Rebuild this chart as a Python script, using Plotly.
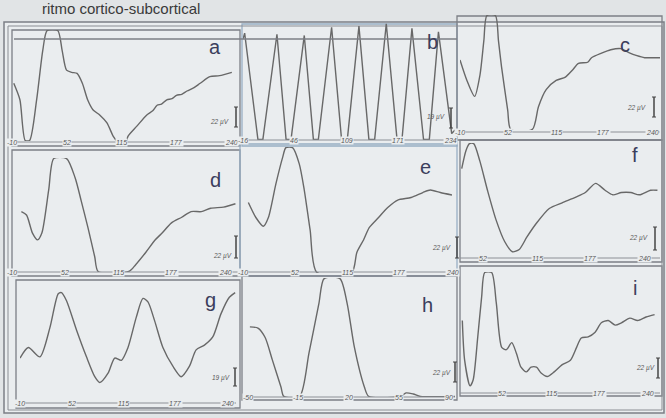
import plotly.graph_objects as go

W, H = 666, 418

# ---------------- data (x in ms, y in % of panel height, clipped 0..100) ----------------
A_X = [-8, -1, 5, 10, 18, 25, 30, 42, 47, 52, 58, 64, 70, 76, 82, 90, 98, 105, 109, 120, 122, 132, 143, 150, 155, 160, 166, 172, 177, 183, 189, 197, 204, 215, 226, 240]
A_Y = [52, 37, 0, 0, 37, 82, 100, 100, 82, 64, 62, 61, 52, 37, 28, 23, 16, 4, 0, 0, 4, 13, 23, 27, 32, 33, 37, 38, 41, 42, 45, 48, 52, 58, 59, 62]

B_X = [-16, -14, 2, 8, 25, 36, 42, 58, 69, 75, 91, 103, 110, 124, 136, 143, 157, 170, 176, 188, 202, 209, 220, 236, 240]
B_Y = [86, 91, 0, 0, 90, 0, 0, 89, 0, 0, 96, 0, 0, 97, 0, 0, 99, 0, 0, 95, 0, 0, 92, 5, 8]

C_X = [-10, -1, 9, 16, 21, 25, 36, 40, 44, 52, 56, 84, 92, 102, 115, 127, 136, 144, 156, 161, 174, 186, 199, 211, 219, 230, 240, 250]
C_Y = [61, 43, 29, 48, 78, 100, 100, 78, 55, 17, 0, 0, 20, 35, 43, 46, 52, 58, 59, 63, 67, 70, 71, 67, 65, 63, 63, 63]

D_X = [1, 7, 14, 20, 25, 33, 39, 54, 64, 71, 79, 87, 91, 127, 135, 147, 158, 166, 177, 189, 200, 212, 223, 238, 252]
D_Y = [53, 50, 34, 28, 34, 72, 100, 100, 83, 63, 39, 13, 0, 0, 6, 17, 28, 34, 43, 48, 53, 53, 56, 57, 60]

E_X = [-4, 5, 14, 20, 29, 37, 41, 49, 57, 63, 70, 78, 120, 126, 134, 141, 152, 163, 175, 191, 205, 214, 226, 240]
E_Y = [56, 44, 37, 44, 71, 92, 100, 100, 87, 66, 34, 0, 0, 16, 26, 36, 44, 52, 58, 60, 64, 66, 64, 62]

F_X = [27, 32, 36, 41, 48, 57, 67, 77, 86, 94, 103, 114, 129, 144, 160, 171, 183, 194, 203, 213, 224, 234, 247, 255]
F_Y = [78, 94, 100, 100, 85, 59, 33, 14, 5, 7, 18, 30, 43, 48, 53, 57, 65, 59, 55, 57, 57, 55, 59, 59]

G_X = [-10, 0, 14, 26, 36, 40, 46, 58, 70, 80, 86, 96, 104, 112, 120, 130, 138, 144, 152, 162, 174, 184, 194, 202, 212, 222, 232, 242, 249]
G_Y = [38, 47, 39, 64, 93, 94, 87, 62, 39, 22, 17, 25, 38, 36, 47, 73, 89, 86, 70, 47, 31, 22, 31, 45, 49, 56, 76, 90, 94]

H_X = [-48.6, -43, -38, -33, -27, -25, -14, -7.5, -0.6, 3, 14, 19, 24, 31, 34, 56, 60, 65, 70, 94]
H_Y = [59, 58, 50, 31, 8, 0, 0, 37, 79, 100, 100, 79, 42, 8, 0, 0, 3, 2, 0, 0]

I_X = [0, 3, 10, 14, 20, 25, 29, 38, 44, 51, 57, 64, 70, 76, 83, 89, 96, 102, 110, 119, 129, 140, 148, 154, 163, 172, 180, 189, 198, 206, 217, 227, 238, 249]
I_Y = [59, 25, 3, 8, 45, 79, 100, 100, 74, 36, 34, 40, 31, 19, 15, 19, 19, 14, 11, 15, 21, 25, 36, 44, 45, 49, 57, 59, 55, 57, 61, 59, 62, 64]

TICKS_STD = [-10, 52, 115, 177, 240]
TICKS_B = [-16, 46, 109, 171, 234]
TICKS_F = [52, 115, 177, 240]
TICKS_H = [-50, -15, 20, 55, 90]
TICKS_I = [52, 115, 177, 240]

PANEL_LETTERS = ["a", "b", "c", "d", "e", "f", "g", "h", "i"]
SCALE_TEXT = ["22 µV", "19 µV", "22 µV", "22 µV", "22 µV", "22 µV", "19 µV", "22 µV", "22 µV"]
HEADER = "ritmo cortico-subcortical"

# ---------------- layout geometry (pixels) ----------------
def px(x):
    return x / W

def py(y):
    return 1 - y / H

panels = [
    dict(X=A_X, Y=A_Y, ticks=TICKS_STD, xr=[-10, 247], xp=(12, 238), yp=(30, 141), ly=142, let=(215, 47), sb=(236, 107, 127), st=(219, 122), lin=False),
    dict(X=B_X, Y=B_Y, ticks=TICKS_B, xr=[-16, 240], xp=(243, 455), yp=(22, 140), ly=140, let=(433, 42), sb=(451, 108, 128), st=(436, 117), lin=True),
    dict(X=C_X, Y=C_Y, ticks=TICKS_STD, xr=[-10, 250], xp=(460, 660), yp=(15, 130), ly=132, let=(625, 45), sb=(654, 97, 117), st=(636, 108), lin=False),
    dict(X=D_X, Y=D_Y, ticks=TICKS_STD, xr=[-10, 255], xp=(12, 238), yp=(158, 272), ly=272, let=(215, 180), sb=(236, 236, 258), st=(222, 256), lin=False),
    dict(X=E_X, Y=E_Y, ticks=TICKS_STD, xr=[-14, 240], xp=(240, 452), yp=(147, 273), ly=272, let=(425, 167), sb=(457, 237, 258), st=(441, 248), lin=False),
    dict(X=F_X, Y=F_Y, ticks=TICKS_F, xr=[25, 258], xp=(460, 660), yp=(143, 258), ly=258, let=(635, 155), sb=(655, 227, 250), st=(638, 238), lin=False),
    dict(X=G_X, Y=G_Y, ticks=TICKS_STD, xr=[-10, 250], xp=(20, 236), yp=(285, 403), ly=403, let=(210, 300), sb=(235, 368, 386), st=(221, 378), lin=False),
    dict(X=H_X, Y=H_Y, ticks=TICKS_H, xr=[-52, 94], xp=(245, 455), yp=(278, 397), ly=397, let=(428, 305), sb=(455, 362, 382), st=(441, 373), lin=False),
    dict(X=I_X, Y=I_Y, ticks=TICKS_I, xr=[-3, 256], xp=(460, 660), yp=(272, 390), ly=393, let=(635, 288), sb=(658, 358, 378), st=(645, 368), lin=False),
]

BG = "#e1e4e6"
PANEL_BG = "#eaedef"
LINE = "#686868"
FRAME = "#7c7f86"
FRAME_BLUE = "#98aec4"
LETTER = "#3b3e5c"
TXT = "#5a5a5a"

fig = go.Figure()
shapes = []
annotations = []

cells = [
    (12, 30, 240, 146, FRAME), (242, 24, 457, 146, FRAME_BLUE), (457, 16, 662, 140, FRAME),
    (12, 150, 240, 276, FRAME), (240, 144, 457, 276, FRAME_BLUE), (460, 140, 662, 262, FRAME),
    (16, 280, 240, 408, FRAME), (242, 276, 457, 400, FRAME), (460, 266, 662, 396, FRAME),
]
shapes.append(dict(type="rect", xref="paper", yref="paper", x0=px(4), x1=px(664), y0=py(22), y1=py(413),
                   fillcolor=PANEL_BG, line=dict(color=FRAME, width=1.5), layer="below"))
for (x0, y0, x1, y1, c) in cells:
    shapes.append(dict(type="rect", xref="paper", yref="paper", x0=px(x0), x1=px(x1), y0=py(y0), y1=py(y1),
                       fillcolor="rgba(0,0,0,0)", line=dict(color=c, width=1.3), layer="below"))
shapes.append(dict(type="rect", xref="paper", yref="paper", x0=px(8), x1=px(662), y0=py(26), y1=py(410),
                   fillcolor="rgba(0,0,0,0)", line=dict(color="#8a8d93", width=1), layer="below"))
shapes.append(dict(type="line", xref="paper", yref="paper", x0=px(14), x1=px(457), y0=py(39), y1=py(39),
                   line=dict(color=FRAME, width=1.3)))

for k, p in enumerate(panels):
    n = "" if k == 0 else str(k + 1)
    xa, ya = "x" + n, "y" + n
    fig.add_trace(go.Scatter(
        x=p["X"], y=p["Y"], xaxis=xa, yaxis=ya, mode="lines",
        line=dict(color=LINE, width=1.4, shape="linear" if p["lin"] else "spline", smoothing=0.7),
        hoverinfo="skip", showlegend=False))
    fig.layout["xaxis" + n] = dict(domain=[px(p["xp"][0]), px(p["xp"][1])], range=p["xr"], visible=False,
                                   anchor=ya, fixedrange=True)
    fig.layout["yaxis" + n] = dict(domain=[py(p["yp"][1]), py(p["yp"][0])], range=[-0.5, 100.5], visible=False,
                                   anchor=xa, fixedrange=True)
    shapes.append(dict(type="line", xref="paper", yref="paper", x0=px(p["xp"][0]), x1=px(p["xp"][1]),
                       y0=py(p["ly"]), y1=py(p["ly"]), line=dict(color="#8d9096", width=1)))
    for t in p["ticks"]:
        annotations.append(dict(x=t, y=py(p["ly"]), xref=xa, yref="paper", text=str(t), showarrow=False,
                                font=dict(size=7, color=TXT, family="Liberation Sans", style="italic"),
                                bgcolor=PANEL_BG, borderpad=0, xanchor="center", yanchor="middle"))
    annotations.append(dict(x=px(p["let"][0]), y=py(p["let"][1]), xref="paper", yref="paper",
                            text=PANEL_LETTERS[k], showarrow=False,
                            font=dict(size=20, color=LETTER, family="Liberation Sans"),
                            xanchor="center", yanchor="middle"))
    sx, s0, s1 = p["sb"]
    shapes.append(dict(type="line", xref="paper", yref="paper", x0=px(sx), x1=px(sx), y0=py(s0), y1=py(s1),
                       line=dict(color="#444", width=1.5)))
    for yy in (s0, s1):
        shapes.append(dict(type="line", xref="paper", yref="paper", x0=px(sx - 2), x1=px(sx + 2), y0=py(yy), y1=py(yy),
                           line=dict(color="#444", width=1)))
    annotations.append(dict(x=px(p["st"][0]), y=py(p["st"][1]), xref="paper", yref="paper",
                            text=SCALE_TEXT[k], showarrow=False,
                            font=dict(size=6.5, color=TXT, family="Liberation Sans", style="italic"),
                            xanchor="center", yanchor="middle"))

annotations.append(dict(x=px(40), y=py(9), xref="paper", yref="paper", text=HEADER,
                        showarrow=False, xanchor="left", yanchor="middle",
                        font=dict(size=15, color="#3a3a3a", family="Liberation Sans")))

fig.update_layout(width=W, height=H, margin=dict(l=0, r=0, t=0, b=0),
                  paper_bgcolor=BG, plot_bgcolor="rgba(0,0,0,0)",
                  shapes=shapes, annotations=annotations, showlegend=False)

fig.write_html("out.html", config={"displayModeBar": False},
               post_script="document.body.style.margin='0';document.body.style.overflow='hidden';")
